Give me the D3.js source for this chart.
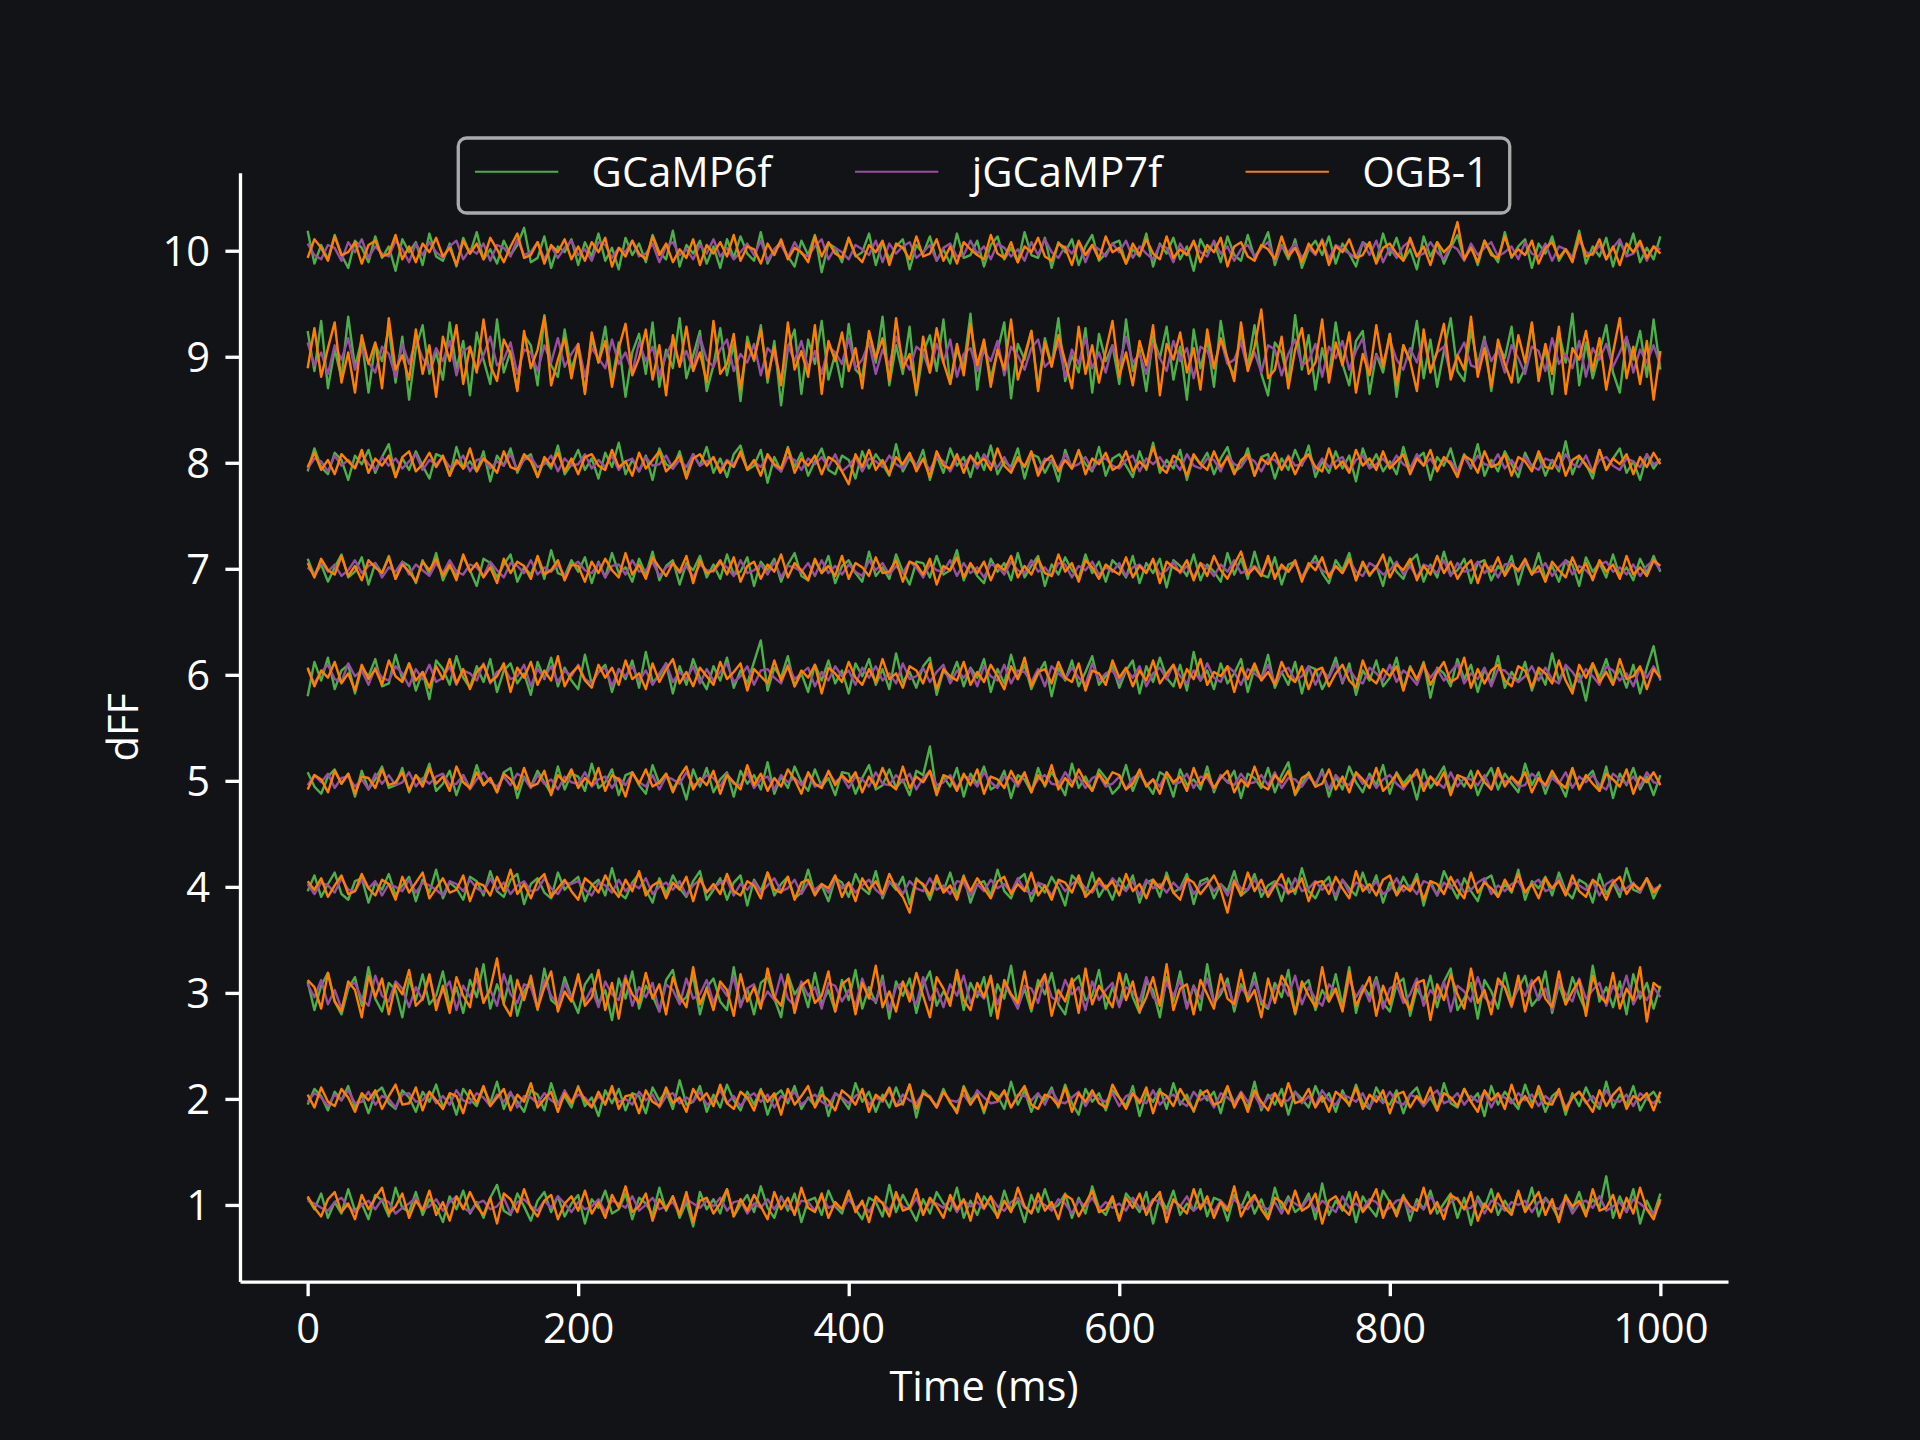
<!DOCTYPE html>
<html><head><meta charset="utf-8">
<script src="https://cdn.jsdelivr.net/npm/d3@7"></script>
<style>html,body{margin:0;padding:0;background:#121316;}svg{display:block;}</style>
</head><body><svg id="chart" width="1920" height="1440"></svg>
<script>
// ---------------- DATA ----------------
const TIME_MS = [
0,5,10,15,20,25,30,35,40,45,50,55,60,65,70,75,80,85,90,95,
100,105,110,115,120,125,130,135,140,145,150,155,160,165,170,175,180,185,190,195,
200,205,210,215,220,225,230,235,240,245,250,255,260,265,270,275,280,285,290,295,
300,305,310,315,320,325,330,335,340,345,350,355,360,365,370,375,380,385,390,395,
400,405,410,415,420,425,430,435,440,445,450,455,460,465,470,475,480,485,490,495,
500,505,510,515,520,525,530,535,540,545,550,555,560,565,570,575,580,585,590,595,
600,605,610,615,620,625,630,635,640,645,650,655,660,665,670,675,680,685,690,695,
700,705,710,715,720,725,730,735,740,745,750,755,760,765,770,775,780,785,790,795,
800,805,810,815,820,825,830,835,840,845,850,855,860,865,870,875,880,885,890,895,
900,905,910,915,920,925,930,935,940,945,950,955,960,965,970,975,980,985,990,995,
1000];
const TRACE_OFFSETS = [1,2,3,4,5,6,7,8,9,10];
const X_TICKS = [0,200,400,600,800,1000];
const Y_TICKS = [1,2,3,4,5,6,7,8,9,10];
const SERIES_NAMES = ["GCaMP6f","jGCaMP7f","OGB-1"];
const SERIES_COLORS = ["#4daf4a","#984ea3","#ff7f00"];
const X_LABEL = "Time (ms)";
const Y_LABEL = "dFF";
// size of one unit of the deviation arrays below, in dFF
const DEV_UNIT = 0.0135;

// deviations from each trace's offset, in DEV_UNIT steps (traces 1..10)
const GCAMP6F = [
[5,-3,8,-9,2,-6,11,-4,1,-10,7,3,-8,12,-2,-5,9,-7,4,-1,
-12,6,-3,10,-6,2,-9,5,14,-4,-7,8,-1,-11,3,9,-5,6,-8,1,
7,-13,4,-2,10,-6,-3,8,-10,5,1,-7,12,-4,6,-9,2,-15,9,-3,
4,-6,11,-8,0,7,-5,13,-2,-9,6,-4,8,-12,3,5,-7,10,-1,-6,
9,-3,-10,5,2,-8,14,-5,7,-2,-11,4,-6,9,1,-4,12,-9,3,-7,
6,-1,-8,10,-4,3,-12,7,-5,11,-3,0,8,-9,5,-6,13,-2,-7,4,
-10,8,2,-5,9,-13,6,-3,10,-7,1,-4,11,-8,5,3,-11,7,-2,9,
-6,4,-9,12,-3,6,-5,-1,8,-10,15,-7,3,-4,9,-12,6,-2,-8,10,
2,-5,7,-11,4,-3,10,-6,1,8,-9,5,-14,6,-2,11,-7,3,-5,9,
-4,12,-8,5,-1,-10,7,-3,9,-6,4,-2,20,-9,6,-5,11,-13,3,-7,
8],
[-4,7,2,-8,5,-1,9,-6,3,-10,4,8,-3,-7,6,1,-9,5,-2,10,
-6,3,-11,7,0,-5,8,-3,12,-7,4,-2,-9,6,3,-8,11,-4,2,-6,
9,-5,1,-12,6,-3,7,-8,4,2,-10,8,-1,5,-7,13,-4,-2,9,-9,
3,-6,10,-1,-8,5,-4,7,-11,2,6,-3,9,-7,1,-5,8,-12,4,0,
-7,11,-2,5,-9,3,-6,8,-4,10,-13,6,1,-5,7,-3,-8,9,-1,4,
-10,5,2,-7,12,-4,6,-9,3,-1,8,-6,10,-3,-11,7,-2,4,-8,6,
1,-5,9,-12,4,-2,7,-7,11,-4,3,-9,6,-1,5,-10,8,-3,2,-6,
12,-8,3,-4,7,-11,5,0,-6,9,-2,4,-9,6,-5,10,-3,-7,8,-1,
-4,6,-10,3,8,-5,1,-8,11,-3,-6,7,-2,4,-12,9,-4,5,-1,-7,
10,-3,5,-9,2,6,-11,4,-5,8,-2,-7,12,-6,3,-4,9,-8,1,5,
-3],
[8,-12,5,14,-6,-15,3,11,-9,18,-4,-13,7,2,-17,10,-5,13,-8,-2,
15,-10,4,-14,9,-3,20,-11,6,-7,12,-16,1,8,-12,17,-5,-9,11,-3,
-14,6,13,-8,2,-19,10,-4,15,-11,5,-2,-13,9,16,-7,-3,12,-15,4,
10,-6,-12,18,-9,3,-15,7,11,-4,-17,13,-1,6,-10,14,-8,2,-13,9,
-5,16,-11,4,-7,12,-18,8,-2,10,-14,5,15,-9,1,-6,13,-12,7,-3,
11,-16,6,-4,19,-10,3,-13,9,-1,14,-8,-15,7,12,-5,-2,16,-11,4,
-9,13,-3,-14,8,2,-17,11,-6,15,-10,5,-12,20,-7,-1,10,-13,6,-4,
14,-8,-11,7,-3,16,-15,4,9,-12,2,-6,13,-9,18,-14,5,-2,11,-7,
-13,6,10,-16,3,-5,12,-10,8,17,-12,-4,7,-18,9,1,-11,14,-6,3,
12,-9,-3,15,-14,6,-8,11,-2,-13,19,-6,4,-10,8,-15,13,-4,7,-11,
5],
[-3,8,-7,2,10,-5,-9,4,6,-11,3,-2,9,-6,1,7,-10,5,-4,12,
-8,3,-1,-9,7,4,-6,11,-3,-7,5,9,-12,2,6,-4,-8,10,-2,3,
7,-10,1,5,-6,13,-4,-8,3,9,-2,-11,6,-5,8,-1,-7,4,11,-9,
-2,6,-9,3,8,-13,5,-3,10,-6,2,7,-8,-4,12,-5,1,-10,6,3,
-7,9,-1,-5,11,-8,4,-2,7,-12,6,1,-9,5,-3,10,-6,8,-11,2,
4,-6,12,-3,-8,5,9,-10,2,-4,7,-1,-13,8,3,-5,10,-7,1,-9,
6,-2,8,-11,3,5,-7,10,-4,-1,9,-12,4,6,-8,2,-3,11,-6,-2,
9,-7,1,4,-10,6,-5,13,-3,-8,2,7,-9,5,-1,-6,10,-4,8,-11,
3,-5,7,-2,9,-13,4,-6,11,1,-8,6,-3,-10,5,8,-7,2,-4,12,
-9,4,-1,7,-6,10,-3,-8,5,2,-11,9,-5,3,-7,13,-2,-4,6,-8,
2],
[6,-4,-9,3,8,-2,5,-11,7,-6,1,10,-5,-3,9,-8,4,-1,12,-7,
-2,7,-10,4,-5,11,-3,2,-8,6,9,-12,3,-4,7,-1,-9,10,-6,5,
3,-7,12,-5,-1,8,-10,4,6,-3,-9,11,-2,5,-6,2,-13,8,-4,9,
-8,1,6,-11,7,-2,4,-6,13,-9,3,-5,10,-1,-7,8,-4,2,-10,6,
5,-9,2,11,-6,-3,8,-5,1,-10,7,4,24,-8,3,-4,9,-11,5,-2,
10,-6,-3,7,-12,4,1,-8,9,-4,6,-1,-10,12,-5,3,-7,8,2,-9,
-4,11,-7,5,-2,-9,6,3,-11,8,-3,1,-6,10,-8,4,-1,7,-12,5,
2,-5,9,-8,4,13,-10,-2,6,-4,8,-11,3,-6,10,-1,-8,5,-3,11,
-9,6,-2,4,-13,8,-5,2,10,-7,3,-4,7,-10,1,9,-6,5,-2,-8,
12,-3,6,-9,4,-1,-11,8,-5,2,7,-7,10,-12,5,-3,9,-6,3,-10,
4],
[-15,9,-4,12,-10,3,7,-13,5,-1,11,-8,-6,14,-3,8,-11,2,-17,10,
4,-7,13,-2,-9,6,-5,11,-12,3,8,-6,1,-14,9,-3,12,-8,5,-4,
-10,14,-6,2,7,-12,4,-3,10,-9,16,-5,-1,8,-13,6,-7,11,-2,-10,
6,-4,12,-9,3,-6,9,24,-11,5,-2,13,-8,1,-12,7,-4,10,-6,3,
-13,8,-1,11,-7,4,-10,15,-5,2,-9,6,12,-14,3,-3,9,-8,5,-2,
11,-12,4,-6,14,-3,7,-10,1,9,-15,5,-4,10,-8,2,13,-7,-1,6,
-9,3,10,-13,6,-5,12,-2,-8,7,-11,16,-4,3,-10,8,-6,1,11,-12,
5,-3,14,-9,2,-7,9,-13,6,4,-10,-1,12,-6,8,-14,3,-4,10,-8,
-2,12,-10,6,-4,9,-16,5,1,-8,11,-3,7,-12,4,-6,13,-9,2,-5,
9,-11,3,-7,15,-4,6,-10,1,-18,8,-2,11,-6,4,-9,7,-13,5,20,
-4],
[7,-5,3,-9,1,10,-6,-2,8,-11,4,-3,9,-7,5,2,-10,6,-4,11,
-8,2,-5,9,-1,-12,7,4,-6,3,10,-9,1,-4,8,-7,13,-3,-5,6,
-2,8,-10,5,-6,11,-3,1,-9,7,-4,12,-8,2,6,-11,4,-1,9,-6,
3,-7,10,-4,-2,8,-12,5,-1,7,-9,3,11,-5,-8,6,-3,9,-10,2,
6,-3,-9,12,-5,1,-7,10,-2,-11,5,4,-6,9,-4,-1,13,-8,3,-5,
-10,7,-2,4,-8,11,-6,2,9,-12,3,-4,8,-1,-7,10,-3,5,-9,6,
1,-6,9,-10,4,-3,7,-13,6,2,-5,10,-8,3,-2,-9,11,-4,7,-7,
12,-4,-6,8,-11,3,5,-7,1,9,-3,-10,6,-1,11,-8,4,-5,2,-12,
8,-2,-7,5,10,-9,3,-6,12,-4,-1,7,-10,4,6,-8,2,-3,9,-11,
5,-4,11,-7,2,-9,6,3,-12,8,-2,4,-6,10,-5,1,-8,7,-3,9,
-2],
[-6,10,-3,-8,7,2,-12,5,-1,9,-7,4,13,-10,3,-5,8,-2,-11,6,
4,-9,11,-4,1,-6,8,-13,5,-2,10,-7,3,6,-10,2,-4,12,-8,-1,
9,-5,3,-11,7,-3,14,-8,2,-6,5,-12,10,-1,-4,8,-9,6,-2,11,
-7,3,-10,6,12,-5,-2,9,-14,4,-6,11,-3,7,-9,1,10,-5,-8,5,
2,-11,8,-4,6,-1,-9,13,-6,3,-3,9,-12,5,-7,10,-2,4,-10,7,
-5,12,-8,1,-3,10,-11,6,4,-7,2,-13,9,-4,8,-1,-6,11,-9,3,
6,-2,-10,8,-5,14,-7,2,-4,9,-12,5,-1,7,-8,3,11,-6,-3,10,
-9,4,6,-11,3,-5,9,-2,12,-10,1,-7,8,-4,5,-13,10,-3,6,-6,
1,-8,11,-5,3,7,-12,4,-2,10,-7,6,-4,13,-9,2,-6,8,-1,-10,
7,-3,5,-9,2,-6,15,-8,4,-1,-11,9,-5,3,10,-7,1,-12,6,-4,
3],
[18,-10,25,-22,5,-15,28,-7,12,-25,9,-3,20,-18,14,-30,6,22,-12,3,
-16,24,-8,11,-27,17,-2,-19,26,-11,4,-23,15,8,-20,29,-6,-14,19,-9,
7,-25,13,-4,21,-17,10,-28,3,16,-12,24,-21,5,-8,27,-15,1,18,-24,
-6,20,-13,9,-31,14,-3,22,-18,11,-34,6,19,-26,12,-5,25,-16,2,-21,
23,-9,-14,17,-4,28,-20,8,-12,21,-27,3,15,-10,26,-19,5,-7,30,-23,
11,-15,4,24,-29,9,-2,18,-22,13,-6,27,-17,1,-11,20,-25,16,-3,8,
-19,26,-10,5,-24,14,-1,21,-16,7,-30,19,-8,12,-21,25,-4,-13,17,-7,
22,-12,-27,10,3,-18,29,-9,15,-23,6,-14,24,-5,-20,11,18,-26,2,-11,
16,-28,8,-3,25,-15,12,-21,4,27,-10,-17,19,-6,14,-24,9,-1,21,-18,
-8,23,-13,6,-26,17,-4,30,-20,10,-15,3,22,-11,-25,13,-2,18,-14,26,
-9],
[14,-9,4,-6,11,-3,-12,7,2,-8,10,-5,3,-14,8,-1,6,-10,12,-4,
-7,5,-11,9,-2,13,-6,1,-9,7,-3,4,16,-8,-5,10,-12,3,-1,8,
-10,6,-4,12,-7,2,-13,9,-3,5,-8,11,-1,-6,14,-11,4,-2,7,-9,
3,-12,8,-5,10,-2,-7,13,-9,1,6,-4,-11,7,-3,11,-15,5,2,-8,
9,-4,-1,12,-10,6,-6,3,8,-13,4,-2,10,-7,1,-9,12,-5,-3,7,
-11,4,10,-6,2,-8,13,-3,-5,9,-12,6,-1,8,-10,3,11,-7,-2,5,
7,-9,1,-4,12,-11,5,-2,9,-6,3,-14,8,-1,6,-8,10,-3,-7,11,
-5,2,13,-10,4,-6,8,-12,1,7,-3,10,-9,5,-2,-11,6,3,-8,12,
-3,9,-7,1,-13,10,-4,6,-9,2,11,-6,4,-10,7,-1,-8,13,-5,3,
8,-12,5,-2,10,-7,1,-5,14,-9,3,-4,9,-11,6,-3,12,-8,2,-6,
10]
];

const JGCAMP7F = [
[3,1,-2,-4,2,5,-1,-5,0,3,-3,4,2,-6,-2,1,5,-3,-1,4,
-4,2,6,-2,-5,1,3,-3,-1,5,-6,2,4,-1,-4,3,-2,6,1,-5,
2,-3,-1,4,-5,3,1,-2,6,-4,0,5,-3,-1,2,-6,4,1,-2,3,
-1,5,-4,2,3,-6,1,-2,4,-3,5,-1,-5,3,2,-4,6,-2,0,-3,
4,-2,1,-5,3,2,-4,6,-1,-3,5,-6,2,1,-2,4,-5,3,-1,2,
-3,6,-1,-4,2,5,-2,-5,3,0,-4,4,1,-6,3,-1,5,-3,2,-2,
1,-4,5,-2,-3,4,2,-6,3,-1,6,-4,0,2,-5,3,-2,4,-1,-3,
5,-1,-3,2,-6,4,1,-2,5,-4,3,-1,-5,6,-2,1,-3,4,2,-5,
-2,3,4,-5,1,-3,6,-1,-4,2,5,-3,-2,4,-6,3,1,-4,2,0,
3,-5,2,4,-1,-3,5,-6,1,3,-2,6,-4,-1,2,-5,4,1,-3,-6,
2],
[-2,4,1,-5,3,-1,6,-3,-2,5,-4,2,0,-6,3,4,-2,-1,5,-3,
2,-4,6,-1,-3,4,1,-5,3,-2,5,-6,2,1,-3,4,-1,-4,6,-2,
3,1,-5,2,-3,6,-2,0,-4,5,-1,3,-6,2,4,-3,1,-2,5,-4,
-1,6,-3,2,-5,1,4,-2,3,-6,2,-1,5,-4,0,3,-2,-5,4,1,
-3,2,5,-4,1,-2,6,-5,3,-1,-3,4,2,-6,5,-1,-2,3,-4,6,
1,-3,-2,5,-6,3,2,-1,4,-4,6,-2,-3,1,5,-5,3,0,-2,4,
-5,2,4,-1,-3,6,-4,1,3,-2,-5,5,-1,2,-6,4,1,-3,5,-2,
3,-6,1,4,-2,-1,5,-3,2,-5,6,-1,-4,3,1,-2,4,-6,2,-3,
5,-2,-4,3,1,-5,2,6,-3,-1,4,-4,2,-2,5,-6,3,1,-3,4,
-1,3,-5,2,-2,4,-6,1,5,-3,2,-4,6,-1,-2,3,-5,4,0,-3,
2],
[6,-3,9,-8,2,-11,5,7,-4,-9,12,-2,-6,8,3,-10,4,-5,11,-7,
1,8,-12,5,-3,10,-6,2,-9,13,-1,-7,6,4,-11,9,-2,-8,7,-4,
11,-6,3,-10,8,-1,-5,12,-9,4,-3,7,-13,6,2,-8,10,-4,-1,9,
-7,5,-2,11,-10,3,6,-8,1,-5,13,-4,-9,8,-2,4,-11,7,5,-6,
2,-9,10,-3,-6,9,-12,4,7,-1,-8,11,-5,3,-10,6,-2,12,-7,1,
-4,10,-8,6,-2,-11,5,3,-7,12,-3,-6,9,-1,4,-12,8,-5,2,7,
-10,4,1,-6,11,-3,-8,7,-2,9,-11,5,-4,10,-7,2,6,-9,3,-1,
8,-5,-10,3,7,-2,12,-8,4,-4,-9,6,1,-12,10,-3,5,-6,9,-11,
3,6,-7,-1,10,-9,2,-4,8,-13,5,1,-6,11,-3,-8,7,4,-10,6,
-2,9,-5,3,-12,8,-1,-6,10,-4,2,7,-9,5,-3,12,-8,1,-5,4,
-3],
[2,-5,3,1,-4,6,-2,-3,5,-1,4,-6,2,0,-3,5,-4,3,1,-2,
-6,4,2,-3,5,-1,-4,6,-2,3,-5,1,4,-3,-2,6,-1,-5,3,2,
4,-2,-6,3,1,-4,5,-3,2,-1,6,-5,0,3,-2,4,-6,1,5,-3,
-1,3,5,-6,2,-2,4,-4,1,6,-3,-1,5,-5,3,-2,2,-4,6,-1,
3,-4,1,5,-2,-6,3,2,-5,4,-1,-3,6,-2,1,-5,4,3,-6,2,
-3,5,-1,2,-4,6,-2,-5,3,1,-6,4,-3,2,5,-1,-4,3,-2,6,
1,-3,4,-6,5,-1,2,-4,3,-2,6,-5,1,4,-3,2,-6,5,-1,-2,
5,-2,-4,3,1,-5,6,-3,-1,4,-2,2,-6,5,-4,3,1,-3,4,-5,
-2,6,-3,1,-5,4,2,-6,3,-1,5,-4,-2,3,6,-5,1,-3,2,4,
-4,2,5,-3,-1,6,-5,3,1,-2,4,-6,2,5,-3,-1,3,-4,6,-2,
1],
[-3,4,-1,5,-5,2,3,-4,1,-6,5,-2,4,-3,-1,6,-4,2,-2,3,
5,-3,-2,4,-6,1,6,-1,-4,3,-3,5,2,-5,4,-2,1,-6,3,-1,
-2,6,-4,1,3,-5,2,-3,5,-1,-4,4,-6,3,1,-2,6,-3,-1,4,
2,-4,5,-2,-3,6,-5,1,3,-6,4,-1,2,-3,5,-4,-2,6,-1,3,
-5,3,1,-4,6,-2,-3,4,-1,5,-6,2,7,-3,-1,4,-5,3,2,-4,
6,-1,-5,3,2,-4,5,-6,1,4,-2,-3,6,-1,3,-5,2,4,-4,-2,
3,-6,2,5,-3,1,-4,6,-2,-1,5,-5,3,2,-6,4,-1,-3,5,-2,
-1,4,-3,6,-5,2,1,-4,3,-2,6,-6,4,-1,-3,5,-2,3,-5,1,
4,-2,-6,1,5,-3,3,-1,-5,6,-4,2,1,-3,4,-6,5,-1,2,-4,
-3,5,1,-4,2,-2,6,-5,3,-1,4,-3,-6,5,1,-2,3,-4,6,-1,
-2],
[4,-6,2,7,-3,-5,8,-1,3,-7,5,-2,-4,6,1,-8,4,-3,7,-5,
-2,6,-7,3,1,-4,8,-6,2,5,-3,-1,7,-8,4,-2,6,-5,3,-1,
7,-3,-6,2,5,-8,4,-1,6,-4,3,-7,1,8,-5,2,-3,6,-6,4,
-4,2,8,-5,-1,6,-7,3,4,-2,-6,7,-3,1,5,-8,2,-4,6,-1,
3,-7,5,-2,6,-4,1,-6,8,-3,-1,5,-5,2,7,-6,3,-2,4,-8,
6,-1,-4,7,-6,3,2,-5,4,-8,6,1,-3,5,-2,-7,8,-4,1,3,
-5,4,-2,6,-8,1,5,-3,7,-1,-6,3,-4,8,-2,-5,6,2,-7,4,
1,-3,7,-6,2,5,-4,-1,6,-7,3,-2,8,-5,4,-3,-6,5,1,-4,
7,-5,3,-1,-7,6,-2,4,-4,2,8,-6,1,-3,5,-8,4,3,-2,-5,
-1,6,-4,5,-3,-6,7,2,-5,4,-1,-7,6,3,-4,1,-8,5,-2,6,
-3],
[1,-4,5,-2,3,-5,-1,6,-3,2,4,-6,1,-2,5,-4,3,-1,-5,4,
-3,6,-2,-4,3,1,-5,5,-1,-6,4,2,-3,6,-4,1,-2,3,-5,2,
5,-1,-3,4,-6,2,3,-4,6,-2,-1,5,-5,1,4,-3,2,-6,3,-1,
-2,4,1,-5,6,-3,-1,3,-4,5,-6,2,1,-2,4,-5,6,-3,2,-4,
3,-2,-5,6,-1,4,-4,2,-3,5,1,-6,3,-1,-2,6,-5,4,-3,1,
-6,3,2,-4,5,-1,-3,6,-2,1,-5,4,3,-6,2,-1,5,-4,1,-2,
4,-5,1,3,-2,6,-4,-1,5,-3,2,-6,4,1,-5,3,-2,6,-3,-1,
2,-3,6,-5,1,-2,4,-6,3,5,-1,-4,2,-3,6,-2,-5,4,1,-4,
-1,5,-4,2,-6,3,1,-3,6,-5,4,-2,-1,5,-3,2,-6,3,4,-2,
5,-3,-2,4,-5,1,6,-4,2,-1,-6,3,5,-2,1,-4,3,-5,2,6,
-1],
[-4,3,1,-6,5,-2,2,-3,6,-1,-5,4,-2,3,-4,1,6,-5,2,-1,
4,-3,-1,5,-6,2,3,-4,1,-2,6,-5,2,4,-3,-1,5,-6,3,-2,
-1,6,-4,2,-3,5,-5,1,3,-6,4,-2,-1,5,-4,2,-3,6,-2,1,
3,-5,2,-1,6,-4,1,-3,5,-2,-6,4,2,-5,3,-1,4,-3,6,-6,
-2,4,-6,3,1,-3,5,-1,-4,6,-2,2,-5,4,1,-6,3,-2,5,-4,
6,-1,-3,4,-5,2,-2,5,-6,3,1,-4,6,-3,-1,4,-5,2,3,-2,
-4,2,5,-6,3,-1,4,-3,1,-5,6,-2,-4,3,2,-6,5,-1,-3,4,
1,-6,3,2,-4,5,-2,-1,6,-5,3,-3,1,4,-6,2,5,-4,-1,3,
-3,5,-1,-4,6,-2,3,-5,2,1,-6,4,-3,5,-1,-2,6,-4,2,-5,
4,-2,-5,3,1,-4,6,-1,-3,5,-6,2,4,-2,-5,3,1,-3,6,-1,
2],
[10,-6,3,-12,8,-2,13,-9,5,-4,-11,7,2,-14,9,-5,12,-1,-8,6,
-3,11,-13,4,7,-9,1,14,-6,-2,10,-12,5,3,-10,8,-4,13,-7,2,
9,-14,6,-1,-8,12,-5,3,-11,10,-3,7,-13,1,11,-6,4,-9,14,-2,
-7,5,12,-10,2,-4,9,-13,6,1,-16,8,-3,11,-8,4,-12,7,3,-5,
13,-8,-2,10,-12,5,-6,14,-1,-9,7,3,-11,9,-4,12,-14,2,6,-10,
4,-3,11,-13,7,1,-9,6,12,-7,-2,10,-14,5,-5,13,-8,3,-11,8,
-6,14,-4,2,-12,9,-1,-10,11,-3,6,-15,7,4,-8,12,-5,-2,10,-9,
3,-11,8,5,-13,2,12,-6,-3,9,-14,7,-1,11,-9,4,13,-12,1,-5,
12,-2,-9,6,-4,14,-10,3,7,-13,1,10,-6,-8,12,-3,5,-11,8,-1,
-12,7,4,-10,13,-5,2,-8,11,-14,6,-2,9,-7,3,14,-11,5,-4,8,
-6],
[5,-3,-6,4,2,-7,6,-1,8,-5,3,-2,-4,7,1,-8,5,-3,6,-1,
-5,3,7,-6,1,-2,5,-7,4,2,-4,8,-3,-1,6,-6,3,-5,2,7,
-3,1,-7,6,4,-5,2,-1,7,-4,-2,5,-8,3,6,-3,1,-6,4,-2,
8,-4,2,-6,-1,5,-3,7,-7,1,4,-5,6,-2,-4,3,8,-6,2,-1,
-6,4,1,-3,7,-8,5,-2,3,6,-5,-1,4,-7,2,5,-4,-3,7,-2,
3,-6,5,2,-4,1,-7,6,-3,8,-1,-5,3,-2,6,-8,4,1,-4,5,
-1,7,-5,3,-2,-6,4,2,-8,5,-3,6,-1,-4,7,-2,3,-7,1,4,
-4,2,6,-7,3,-1,5,-5,2,-3,8,-6,4,1,-2,-5,6,-3,7,-8,
2,-5,3,7,-4,-2,6,-1,-6,4,1,-7,5,-3,2,6,-4,-1,3,-6,
6,-2,-4,5,-7,3,1,-5,7,-1,-3,4,-6,2,8,-4,-2,5,-7,3,
1]
];

const OGB1 = [
[6,-2,-8,4,9,-5,1,-10,7,-3,5,12,-6,-1,8,-9,3,-4,10,-7,
2,-11,6,-3,9,-1,-7,5,-13,8,4,-5,11,-2,-8,3,7,-10,1,6,
-4,10,-6,2,-9,7,-2,13,-5,-1,8,-11,4,-3,6,-7,9,-12,3,5,
-6,1,11,-8,4,-4,7,-1,-10,9,-3,5,-7,12,-2,-5,8,-9,2,-3,
10,-5,3,-12,6,1,-8,9,-4,-2,11,-7,5,-1,-9,7,-3,4,-11,8,
-2,6,-9,3,-5,12,-1,-6,8,-4,2,-10,7,4,-8,1,10,-5,-3,6,
-11,5,-2,8,-7,3,9,-12,4,-1,-6,11,-3,6,-9,2,-4,13,-8,1,
7,-3,-10,5,2,-6,10,-4,-1,8,-13,3,6,-2,-7,9,-5,1,11,-9,
3,-8,6,-1,-4,12,-6,2,-10,7,4,-3,9,-11,1,-5,8,-2,-7,10,
-5,2,9,-7,4,-12,6,-1,3,-8,11,-4,-2,7,-9,5,-6,12,-3,-10,
4],
[3,-6,8,-2,-5,7,1,-9,4,-1,6,-7,2,10,-4,-3,8,-8,5,-1,
-7,4,2,-10,6,-3,9,-5,1,7,-8,3,-2,11,-6,0,5,-9,4,-3,
8,-1,-6,5,-4,9,-7,2,3,-10,6,-2,-5,8,-3,1,-9,7,-1,4,
-5,10,-3,-7,5,1,-8,6,-2,4,-11,7,-4,2,9,-6,3,-1,-8,6,
2,-4,7,-9,3,-1,8,-5,-3,10,-7,4,1,-6,5,-2,-10,8,-4,3,
-8,5,-1,6,-6,2,9,-4,-7,3,1,-5,8,-9,4,-2,6,-3,-6,10,
1,-7,4,-3,8,-10,5,2,-5,7,-1,-8,3,6,-4,-2,9,-6,4,-9,
6,-2,-8,4,-5,11,-3,-1,7,-6,2,-9,5,1,-4,8,-7,3,-2,6,
-10,3,5,-6,2,-3,8,-8,4,1,-5,7,-2,-9,6,-1,4,-7,10,-4,
2,-6,9,-3,-4,7,-8,1,5,-2,-9,6,-5,3,8,-7,2,-1,4,-8,
5],
[9,4,-11,14,-6,-13,8,2,-17,12,-3,10,-15,6,-1,16,-9,-4,13,-12,
5,-14,11,-2,-10,17,-7,3,24,-8,-16,9,-5,12,-11,4,15,-13,1,-6,
13,-9,-3,16,-12,7,-18,10,-1,-7,14,-4,6,-15,11,-2,-10,18,-8,3,
-12,8,2,-16,13,-6,4,-11,17,-3,-9,12,-14,5,9,-7,-2,15,-13,6,
10,-15,7,-4,19,-10,1,-13,8,-6,14,-2,-17,11,3,-9,16,-5,-12,7,
-3,12,-18,9,-1,-7,15,-11,4,13,-16,2,-6,10,-14,17,-8,5,-2,-10,
14,-5,8,-13,-3,11,-9,20,-12,3,6,-15,9,-1,-11,13,-4,-8,16,-6,
2,-17,10,-7,12,4,-14,8,-2,-10,18,-6,3,-13,15,-9,1,11,-16,5,
-8,14,-3,-12,7,9,-19,6,-5,13,-1,-11,17,-7,2,-15,10,4,-9,12,
-13,6,11,-4,-10,15,-8,1,9,-16,12,-2,-7,14,-11,3,-5,18,-20,7,
3],
[4,-2,6,-7,1,8,-5,-3,9,-1,-6,5,2,-9,7,-4,3,10,-8,-1,
6,-4,-2,8,-10,3,1,-6,7,-3,12,-5,2,-8,4,9,-7,-1,5,-3,
-9,6,2,-4,8,-1,-7,5,-3,11,-6,1,4,-8,3,-2,7,-10,6,-4,
2,-5,9,-3,-6,4,1,-8,10,-2,-4,7,-9,3,5,-6,2,-1,8,-7,
3,-10,6,-2,4,-5,9,-1,-7,-18,5,2,-6,8,-4,1,-9,7,-3,6,
-1,-8,4,7,-5,2,-3,10,-6,1,-9,5,3,-4,8,-7,-2,6,-1,4,
-6,9,-3,2,-8,5,-1,7,-4,-9,6,3,-5,1,8,-2,-18,4,-6,10,
-3,5,-7,1,9,-4,-2,6,-10,3,4,-5,7,-1,-8,11,-3,2,-6,5,
8,-6,1,-3,6,-9,4,2,-5,7,-2,-8,10,-4,3,-1,-7,5,-3,9,
-4,2,-8,6,-1,4,-6,8,-3,-7,5,1,-9,3,7,-5,2,-2,6,-4,
1],
[-6,4,1,-8,7,-2,5,-9,3,2,-5,8,-3,-1,6,-7,4,-4,9,-2,
3,-7,10,-1,-5,6,-3,2,-8,5,1,-6,9,-4,-2,7,-10,4,-1,8,
-5,2,-3,9,-7,4,1,-11,6,-2,8,-4,-1,5,-8,3,10,-6,2,-3,
7,-9,4,-1,-6,11,-3,5,-7,2,-4,8,1,-9,6,-2,-5,7,-3,4,
-1,6,-8,3,-4,9,-2,-6,10,-5,3,-1,7,-10,4,2,-7,5,-3,8,
-9,3,1,-5,7,-2,6,-8,4,-3,11,-6,2,-4,8,-1,-7,5,-2,6,
4,-6,-2,8,-4,1,-9,6,-1,3,-7,9,-3,5,-5,2,7,-8,1,-4,
10,-3,-6,4,-1,7,-9,2,5,-4,-2,8,-6,3,-8,6,1,-5,9,-7,
-2,5,-4,1,8,-7,3,-3,6,-10,4,2,-5,7,-1,-6,9,-4,3,-2,
6,-8,2,-3,7,-1,-5,9,-6,4,-2,-7,5,1,-4,8,-9,3,-1,6,
-3],
[5,-8,3,-2,9,-6,1,-11,7,-3,4,-7,10,-1,-5,8,-4,2,-9,6,
-3,11,-6,4,-10,2,7,-5,-1,8,-12,5,-2,9,-7,3,-4,13,-8,1,
6,-4,-9,7,-2,5,-7,10,-3,1,-10,8,-5,4,11,-6,2,-8,5,-1,
-7,9,-3,2,8,-11,4,-1,-6,10,-4,6,-8,3,-2,7,-13,5,1,-5,
9,-2,-7,4,-5,11,-3,1,-9,6,3,-6,8,-10,4,-1,-4,9,-7,2,
-5,7,-1,-10,6,-3,12,-8,2,4,-6,9,-2,-5,8,-11,3,1,-7,10,
-2,5,-8,3,-4,10,-6,1,7,-9,4,-3,11,-7,2,-1,6,-12,5,-3,
8,-4,2,-7,9,-1,-5,6,-10,3,5,-8,1,7,-4,-9,10,-2,-6,4,
-1,6,-11,5,-3,8,-7,2,9,-5,-2,12,-9,4,-6,3,7,-4,-8,6,
3,-9,5,1,-6,10,-4,-13,7,-2,8,-5,2,-7,11,-3,-1,6,-10,4,
-2],
[4,-6,7,-1,-4,9,-5,2,-8,6,1,-3,8,-7,3,-2,-9,5,-1,7,
-5,3,-8,10,-2,4,-6,1,-10,7,-3,5,2,-7,9,-4,-1,6,-8,3,
2,-9,5,-3,7,-1,-6,11,-4,3,-7,8,1,-5,4,-2,9,-10,6,-3,
-1,6,-4,8,-9,2,5,-7,3,-2,10,-6,4,-1,-8,7,-3,2,-5,9,
-7,4,1,-5,8,-3,-2,6,-9,5,3,-4,7,-11,2,-1,8,-6,4,-3,
5,-8,3,-1,9,-6,2,-4,7,-3,-5,10,-2,4,-9,6,1,-7,3,-1,
-4,8,-6,2,-3,7,-10,5,1,-2,6,-8,4,-5,9,-1,-7,3,12,-4,
1,-5,9,-7,3,-2,6,-9,4,-1,8,-6,2,-3,7,-8,5,-4,1,10,
-6,3,-1,7,-8,2,-4,9,-3,5,-7,1,6,-10,4,-2,8,-5,3,-1,
7,-4,2,-9,5,-1,-6,8,-3,4,-8,6,-2,3,-7,9,-4,1,-5,6,
2],
[-3,7,-5,2,-8,6,1,-4,9,-7,3,-2,5,-10,4,8,-6,-1,7,-3,
5,-9,2,-4,10,-6,3,-1,-7,8,-3,-5,6,1,-10,4,-2,7,-6,3,
-8,4,6,-2,-5,9,-3,1,-9,7,-4,2,8,-6,-1,5,-11,3,6,-2,
4,-7,1,-3,8,-5,2,-9,6,-1,-4,10,-7,3,-2,5,-8,4,1,-6,
-15,6,-3,9,-5,2,-8,4,-1,7,-6,3,-10,8,-2,-4,6,-7,5,-1,
3,-5,10,-2,-7,4,-3,8,-9,1,5,-6,2,-4,9,-8,3,-1,7,-5,
-2,8,-6,1,-4,11,-3,-7,5,2,-9,6,-1,-5,8,-3,4,-8,2,6,
-9,3,-1,7,-5,4,-8,2,6,-3,-6,10,-4,1,-7,9,-2,3,-5,8,
-4,1,6,-8,3,-2,9,-6,4,-1,-10,5,2,-7,8,-3,-1,6,-9,4,
1,-6,8,-3,-4,7,-9,2,5,-2,-7,9,-5,3,-1,6,-8,4,-3,7,
-1],
[-8,20,-14,6,24,-18,3,-25,15,-5,10,-22,27,-9,1,-16,19,-12,8,-28,
14,-3,22,-19,7,-11,26,-6,-17,12,2,-24,18,-8,5,28,-20,-2,13,-15,
9,-26,17,-4,11,-21,6,23,-13,-1,19,-16,8,-27,15,-7,21,-10,3,-18,
25,-12,-5,16,-23,10,-2,19,-15,7,-20,24,-9,4,-14,22,-26,11,-3,17,
-10,6,-22,18,-1,13,-17,27,-8,2,-25,14,-11,20,-4,-19,9,-13,23,-6,
12,-21,5,-9,26,-16,1,18,-24,10,-7,15,-3,-22,21,-12,8,-18,4,25,
-14,3,-20,11,-6,22,-27,9,-2,17,-11,6,-23,19,-8,13,-1,-17,24,-10,
7,33,-15,-9,14,-22,5,20,-12,-4,26,-18,10,-6,17,-25,2,-13,22,-7,
16,-20,8,-3,-24,19,-11,4,23,-16,1,-9,28,-14,6,-21,12,-5,-18,15,
-4,24,-17,9,-12,21,-26,6,-2,18,-10,13,-23,3,27,-15,7,-19,11,-30,
4],
[-5,8,2,-7,10,-3,-1,6,-9,4,7,-4,-2,11,-6,3,-8,5,-1,9,
-4,2,-10,7,-2,5,-6,9,1,-8,3,12,-5,-3,6,-9,4,-1,8,-6,
3,-7,6,-1,9,-11,2,-4,7,-2,-6,10,-3,5,-8,1,-5,8,-10,4,
-2,6,-4,11,-7,3,1,-9,5,-3,8,-6,2,-1,-8,10,-4,6,-2,-5,
9,-3,-8,4,-1,7,-10,5,2,-6,10,-4,-2,8,-7,3,-9,6,1,-3,
-6,11,-2,-5,6,-8,3,-1,9,-4,-7,5,2,-10,7,-3,4,-6,10,-1,
2,-9,5,-3,8,-2,-6,10,-5,1,-3,7,-8,4,-1,9,-11,3,6,-4,
-7,4,1,-6,10,-4,2,-8,5,-2,7,-10,3,-1,8,-5,-3,6,-9,2,
5,-2,-7,9,-4,3,-10,6,-1,4,20,-6,2,-8,7,-3,-5,10,-4,1,
-3,7,-9,2,6,-5,1,-8,11,-4,-2,8,-6,3,-10,5,-1,7,-5,3,
-2]
];

// ---------------- RENDER ----------------
const FONT = "'Open Sans', 'Noto Sans', 'DejaVu Sans', sans-serif";
const FS = 41.67;       // 10pt @ 300 dpi
const LW = 3.33;        // 0.8pt spine / tick width
const TICK = 14.58;     // 3.5pt tick length
const TRACE_W = 2.4;
const LEG_W = 2.08;
const BG = "#121316";
const FG = "#ffffff";
const M = {left: 240, right: 1728, top: 172.8, bottom: 1281.6};

const svg = d3.select("#chart");
svg.append("rect").attr("width", 1920).attr("height", 1440).attr("fill", BG);

const x = d3.scaleLinear().domain([-50, 1050]).range([M.left, M.right]);
const y = d3.scaleLinear().domain([0.277, 10.735]).range([M.bottom, M.top]);

const line = d3.line().x(d => x(d[0])).y(d => y(d[1]));
const plot = svg.append("g");
[GCAMP6F, JGCAMP7F, OGB1].forEach((traces, s) => {
  traces.forEach((dev, k) => {
    const n = Math.min(dev.length, TIME_MS.length);
    const pts = [];
    for (let i = 0; i < n; i++) pts.push([TIME_MS[i], TRACE_OFFSETS[k] + dev[i] * DEV_UNIT]);
    plot.append("path")
      .attr("d", line(pts))
      .attr("fill", "none")
      .attr("stroke", SERIES_COLORS[s])
      .attr("stroke-width", TRACE_W)
      .attr("stroke-linejoin", "round");
  });
});

function styleAxis(g) {
  g.attr("font-family", null).attr("font-size", null);
  g.select(".domain").attr("stroke", FG).attr("stroke-width", LW);
  g.selectAll(".tick line").attr("stroke", FG).attr("stroke-width", LW);
  g.selectAll(".tick text").attr("fill", FG)
    .style("font-family", FONT).style("font-size", FS + "px");
}

const gx = svg.append("g").attr("transform", `translate(0,${M.bottom})`)
  .call(d3.axisBottom(x).tickValues(X_TICKS).tickSize(TICK).tickSizeOuter(0)
        .tickPadding(16.8).tickFormat(d3.format("d")));
styleAxis(gx);

const gy = svg.append("g").attr("transform", `translate(${M.left},0)`)
  .call(d3.axisLeft(y).tickValues(Y_TICKS).tickSize(TICK).tickSizeOuter(0)
        .tickPadding(15.4).tickFormat(d3.format("d")));
styleAxis(gy);
gy.selectAll(".tick text").attr("dy", "0.36em");

svg.append("text").text(X_LABEL)
  .attr("x", (M.left + M.right) / 2).attr("y", 1400.5)
  .attr("text-anchor", "middle").attr("fill", FG)
  .style("font-family", FONT).style("font-size", FS + "px");

svg.append("text").text(Y_LABEL)
  .attr("transform", `translate(138,${(M.top + M.bottom) / 2}) rotate(-90)`)
  .attr("text-anchor", "middle").attr("fill", FG)
  .style("font-family", FONT).style("font-size", FS + "px");

// ---------------- LEGEND ----------------
const em = FS, bp = 0.4 * em, hl = 2 * em, hp = 0.8 * em, cs = 2 * em;
const legTop = 138, legBottom = 213, handleY = 171.7, textBase = 186.5;
const lg = svg.append("g");
const box = lg.append("rect");
const widths = SERIES_NAMES.map(name => {
  const t = lg.append("text").text(name).style("font-family", FONT).style("font-size", FS + "px");
  const w = t.node().getComputedTextLength();
  t.remove();
  return w;
});
const inner = d3.sum(widths) + SERIES_NAMES.length * (hl + hp) + (SERIES_NAMES.length - 1) * cs;
const boxW = inner + 2 * bp + 4;
const legLeft = (M.left + M.right) / 2 - boxW / 2;
box.attr("x", legLeft).attr("y", legTop).attr("width", boxW).attr("height", legBottom - legTop)
  .attr("rx", 8.3).attr("ry", 8.3)
  .attr("fill", BG).attr("stroke", "#aaaaaa").attr("stroke-width", LW);
let cx = legLeft + bp;
SERIES_NAMES.forEach((name, i) => {
  lg.append("line").attr("x1", cx).attr("x2", cx + hl).attr("y1", handleY).attr("y2", handleY)
    .attr("stroke", SERIES_COLORS[i]).attr("stroke-width", LEG_W);
  lg.append("text").text(name).attr("x", cx + hl + hp).attr("y", textBase)
    .attr("fill", FG).style("font-family", FONT).style("font-size", FS + "px");
  cx += hl + hp + widths[i] + cs;
});
</script>
</body></html>
